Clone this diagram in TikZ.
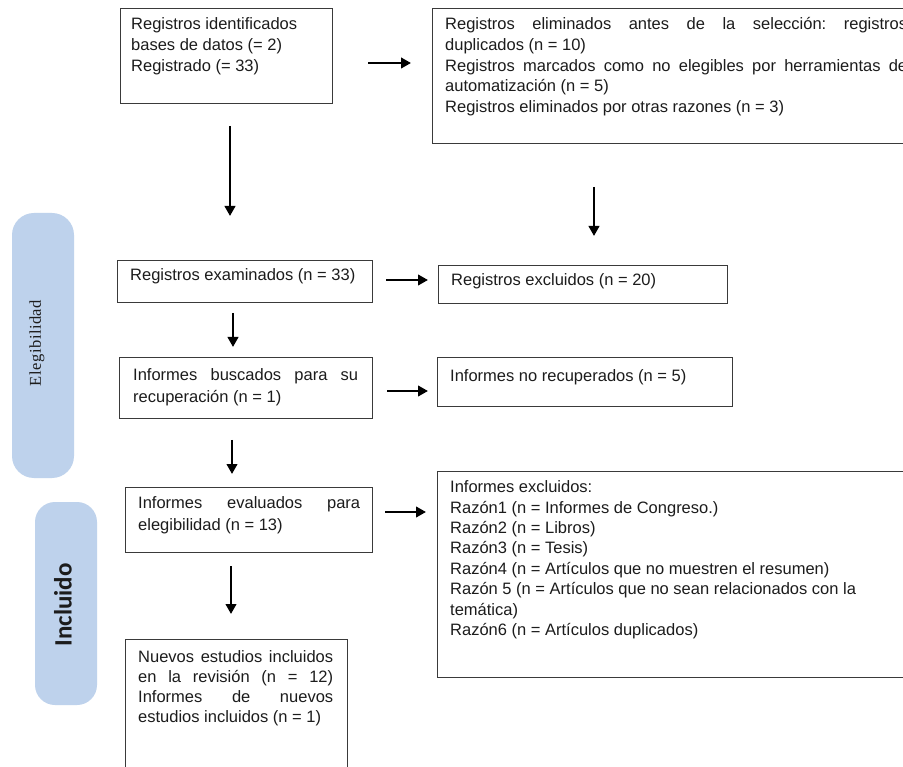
\documentclass[tikz,border=0pt]{standalone}
\usepackage{fontspec}
\setmainfont{Liberation Sans}
\newfontfamily\serifm[LetterSpace=3]{Liberation Serif}
\newfontfamily\carl{Carlito}
\usetikzlibrary{arrows.meta}
\definecolor{pillc}{RGB}{190,210,236}
\definecolor{bord}{RGB}{58,58,58}
\definecolor{txt}{RGB}{28,28,28}
\newcommand{\fs}{\rule{0pt}{15pt}}
\newcommand{\jl}[2]{\makebox[#1][s]{#2}}
\frenchspacing
\begin{document}
\begin{tikzpicture}[x=1pt,y=-1pt,
  box/.style={draw=bord,line width=1.2pt,fill=white,anchor=north west,inner sep=0pt},
  lbl/.style={anchor=north west,inner sep=0pt,align=left,text=txt,font=\fontsize{16.5}{20.7}\selectfont},
  arr/.style={line width=2.5pt,-{Triangle[length=10pt,width=10.5pt]}},
  pillst/.style={fill=pillc,rounded corners=22pt,draw=none}]
\clip (0,0) rectangle (903,767);
\fill[white] (0,0) rectangle (903,767);

% side pills
\draw[pillst] (12,213) rectangle (74,478);
\node[rotate=90,inner sep=0pt,text=txt,font=\serifm\fontsize{16.5}{16.5}\selectfont] (eleg) at (37,343) {Elegibilidad};
\draw[pillst,rounded corners=20pt] (35,502) rectangle (97,705);
\node[rotate=90,inner sep=0pt,text=txt,font=\carl\bfseries\fontsize{25}{25}\selectfont] (incl) at (63,605) {Incluido};

% boxes
\node[box,minimum width=212pt,minimum height=95pt] (b1) at (120,8) {};
\node[box,minimum width=490pt,minimum height=135pt] (b2) at (432,8) {};
\node[box,minimum width=255pt,minimum height=42pt] (b3) at (117,260) {};
\node[box,minimum width=289pt,minimum height=38pt] (b4) at (438,265) {};
\node[box,minimum width=253pt,minimum height=61pt] (b5) at (119,357) {};
\node[box,minimum width=295pt,minimum height=49pt] (b6) at (437,357) {};
\node[box,minimum width=247pt,minimum height=65pt] (b7) at (125,487) {};
\node[box,minimum width=490pt,minimum height=206pt] (b8) at (437,471) {};
\node[box,minimum width=222pt,minimum height=160pt] (b9) at (125,639) {};

% texts
\node[lbl] (t1) at (131,14.5) {\fs Registros identificados\\bases de datos (= 2)\\Registrado (= 33)};
\node[lbl] (t2) at (445,14.5) {\fs\jl{462pt}{Registros eliminados antes de la selección: registros}\\duplicados (n = 10)\\\jl{462pt}{Registros marcados como no elegibles por herramientas de}\\automatización (n = 5)\\Registros eliminados por otras razones (n = 3)};
\node[lbl] (t3) at (130,265.5) {\fs Registros examinados (n = 33)};
\node[lbl] (t4) at (451,270.5) {\fs Registros excluidos (n = 20)};
\node[lbl,font=\fontsize{16.5}{22}\selectfont] (t5) at (133,365.5) {\fs\jl{225pt}{Informes buscados para su}\\recuperación (n = 1)};
\node[lbl] (t6) at (450,366.5) {\fs Informes no recuperados (n = 5)};
\node[lbl,font=\fontsize{16.5}{22}\selectfont] (t7) at (138,493.5) {\fs\jl{222pt}{Informes evaluados para}\\elegibilidad (n = 13)};
\node[lbl,font=\fontsize{16.5}{20.4}\selectfont] (t8) at (450,477.5) {\fs Informes excluidos:\\Razón1 (n = Informes de Congreso.)\\Razón2 (n = Libros)\\Razón3 (n = Tesis)\\Razón4 (n = Artículos que no muestren el resumen)\\Razón 5 (n = Artículos que no sean relacionados con la\\temática)\\Razón6 (n = Artículos duplicados)};
\node[lbl,font=\fontsize{16.5}{20}\selectfont] (t9) at (138,647.5) {\fs\jl{195pt}{Nuevos estudios incluidos}\\\jl{195pt}{en la revisión (n = 12)}\\\jl{195pt}{Informes de nuevos}\\estudios incluidos (n = 1)};

% arrow end points
\coordinate (a12s) at (368,63);   \coordinate (a12e) at (411,63);
\coordinate (a13s) at (230,126);  \coordinate (a13e) at (230,216);
\coordinate (a2ds) at (594,187);  \coordinate (a2de) at (594,236);
\coordinate (a34s) at (386,280);  \coordinate (a34e) at (428,280);
\coordinate (a35s) at (233,313);  \coordinate (a35e) at (233,347);
\coordinate (a56s) at (387,391);  \coordinate (a56e) at (428,391);
\coordinate (a57s) at (232,440);  \coordinate (a57e) at (232,474);
\coordinate (a78s) at (385,512);  \coordinate (a78e) at (426,512);
\coordinate (a79s) at (231,566);  \coordinate (a79e) at (231,614);

\draw[arr] (a12s) -- (a12e);
\draw[arr] (a13s) -- (a13e);
\draw[arr] (a2ds) -- (a2de);
\draw[arr] (a34s) -- (a34e);
\draw[arr] (a35s) -- (a35e);
\draw[arr] (a56s) -- (a56e);
\draw[arr] (a57s) -- (a57e);
\draw[arr] (a78s) -- (a78e);
\draw[arr] (a79s) -- (a79e);
\end{tikzpicture}
\end{document}
